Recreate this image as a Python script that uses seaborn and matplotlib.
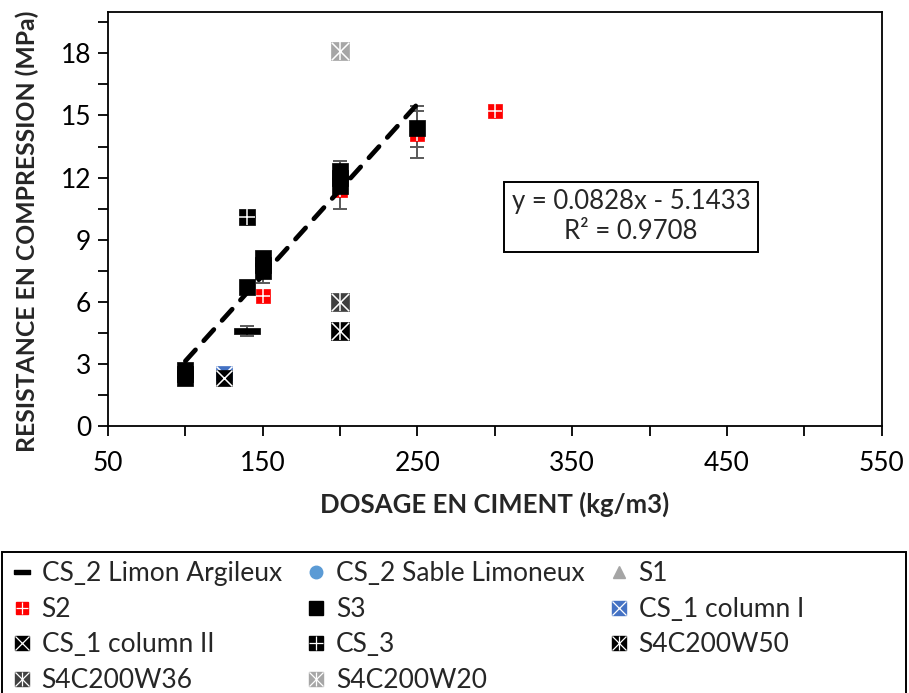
import seaborn as sns
import matplotlib.pyplot as plt
from matplotlib.lines import Line2D
from matplotlib.patches import Rectangle
from matplotlib.legend_handler import HandlerTuple

# cement dosage (kg/m3) and compressive strength (MPa) for each series
limon_x, limon_y = [140], [4.6]
sable_x, sable_y = [125], [2.4]
s1_x, s1_y = [100], [2.5]
s2_x, s2_y = [150, 200, 250, 300], [6.3, 11.4, 14.1, 15.2]
s3_x = [100, 100, 100, 140, 150, 150, 150, 200, 200, 200, 250]
s3_y = [2.3, 2.5, 2.7, 6.7, 7.5, 7.8, 8.1, 11.6, 12.0, 12.3, 14.4]
cs1_i_x, cs1_i_y = [125], [2.5]
cs1_ii_x, cs1_ii_y = [125], [2.3]
cs3_x, cs3_y = [140], [10.1]
w50_x, w50_y = [200], [4.6]
w36_x, w36_y = [200], [6.0]
w20_x, w20_y = [200], [18.1]

# error bars
err_x = [140, 150, 200, 250, 250]
err_y = [4.6, 7.45, 11.65, 14.2, 14.35]
err_e = [0.25, 0.55, 1.15, 1.25, 0.85]

# linear trend line
slope, intercept, r2 = 0.0828, -5.1433, 0.9708
trend_x = [100, 250]

x_ticks = [50, 150, 250, 350, 450, 550]
y_ticks = [0, 3, 6, 9, 12, 15, 18]

sns.set_style('white')
plt.rcParams['font.family'] = ['Lato', 'DejaVu Sans']

fig = plt.figure(figsize=(9.09, 6.93), dpi=100)
ax = fig.add_axes([0.1188, 0.3853, 0.8512, 0.5974])

RED, BLUE, SKY, GREY = '#FF0000', '#4472C4', '#5B9BD5', '#A5A5A5'
bar = [(-1, -0.22), (1, -0.22), (1, 0.22), (-1, 0.22), (-1, -0.22)]


def white(marker, size, lw=1.1):
    return dict(marker=marker, size=size, color='white', lw=lw)


# (label, x, y, base marker, base size, face colour, overlays, legend size)
series = [
    ('CS_2 Limon Argileux', limon_x, limon_y, bar, 19, 'black', [], 11),
    ('CS_2 Sable Limoneux', sable_x, sable_y, 'o', 10, SKY, [], 9),
    ('S1', s1_x, s1_y, '^', 10, GREY, [], 9),
    ('S2', s2_x, s2_y, 's', 10, RED, [white('+', 10)], 9),
    ('S3', s3_x, s3_y, 's', 11.5, 'black', [], 9.5),
    ('CS_1 column I', cs1_i_x, cs1_i_y, 's', 11.5, BLUE, [white('x', 11.5)], 9.5),
    ('CS_1 column II', cs1_ii_x, cs1_ii_y, 's', 11.5, 'black', [white('x', 11.5)], 9.5),
    ('CS_3', cs3_x, cs3_y, 's', 12, 'black', [white('+', 12)], 9.5),
    ('S4C200W50', w50_x, w50_y, 's', 12.5, 'black', [white('x', 12.5), white('|', 12.5)], 9.5),
    ('S4C200W36', w36_x, w36_y, 's', 12.5, '#404040', [white('x', 12.5), white('|', 12.5)], 9.5),
    ('S4C200W20', w20_x, w20_y, 's', 12.5, '#A6A6A6', [white('x', 12.5), white('|', 12.5)], 9.5),
]

ax.errorbar(err_x, err_y, yerr=err_e, fmt='none', ecolor='#595959',
            elinewidth=1.4, capsize=5, capthick=1.4, zorder=2)

handles = {}
for i, (label, xs, ys, mk, size, face, overlays, lsize) in enumerate(series):
    z = 3 + i * 0.2
    sns.scatterplot(x=xs, y=ys, ax=ax, marker=mk, s=size ** 2, color=face,
                    edgecolor=face, linewidth=0.5, legend=False, zorder=z)
    for ov in overlays:
        sns.scatterplot(x=xs, y=ys, ax=ax, marker=ov['marker'], s=ov['size'] ** 2,
                        color=ov['color'], linewidth=ov['lw'], legend=False, zorder=z + 0.1)
    h = [Line2D([], [], ls='none', marker=mk, ms=lsize, color=face, mec=face)]
    for ov in overlays:
        h.append(Line2D([], [], ls='none', marker=ov['marker'], ms=lsize,
                        color='white', mew=0.9))
    handles[label] = tuple(h)

# trend line from the fitted equation
sns.lineplot(x=trend_x, y=[slope * v + intercept for v in trend_x], ax=ax,
             color='black', lw=3.4, zorder=10)
ax.lines[-1].set_dashes((3.2, 2.6))
ax.lines[-1].set_dash_capstyle('round')

ax.text(388, 10.1, f'y = {slope}x - {abs(intercept)}\nR² = {r2}', ha='center', va='center',
        fontsize=18.5, linespacing=1.25, zorder=12,
        bbox=dict(boxstyle='square,pad=0.3', fc='white', ec='black', lw=1.4))

ax.set_xlim(50, 550)
ax.set_ylim(0, 20)
ax.set_xticks(x_ticks)
ax.set_xticks([100, 200, 300, 400, 500], minor=True)
ax.set_yticks(y_ticks)
ax.set_yticks([1.5, 4.5, 7.5, 10.5, 13.5, 16.5, 19.5], minor=True)
ax.tick_params(which='both', direction='out', length=7, width=1.3, color='black',
               labelsize=19, labelcolor='black', bottom=True, left=True)
ax.tick_params(axis='x', pad=11)
ax.tick_params(axis='y', pad=5)
for sp in ax.spines.values():
    sp.set_color('black')
    sp.set_linewidth(1.3)

ax.set_xlabel('DOSAGE EN CIMENT (kg/m3)', fontsize=18.5, fontweight='bold', labelpad=11)
ax.set_ylabel('RESISTANCE EN COMPRESSION (MPa)', fontsize=17.8, fontweight='bold')
ax.yaxis.set_label_coords(-0.089, 0.47)

# legend box (runs past the bottom edge of the picture)
fig.patches.append(Rectangle((2 / 909, -0.02), 904 / 909, 0.02 + 141 / 693,
                             transform=fig.transFigure, fill=False, ec='black', lw=1.4))
order = ['CS_2 Limon Argileux', 'S2', 'CS_1 column II', 'S4C200W36',
         'CS_2 Sable Limoneux', 'S3', 'CS_3', 'S4C200W20',
         'S1', 'CS_1 column I', 'S4C200W50']
leg = fig.legend([handles[k] for k in order], order, loc='upper left',
                 bbox_to_anchor=(6 / 909, 1 - 556 / 693), ncol=3,
                 fontsize=19, frameon=False,
                 handler_map={tuple: HandlerTuple(ndivide=1, pad=0)},
                 handlelength=0.8, handletextpad=0.35, labelspacing=0.4,
                 columnspacing=0.9, borderpad=0.2, borderaxespad=0)

fig.savefig('out.png', dpi=100)
